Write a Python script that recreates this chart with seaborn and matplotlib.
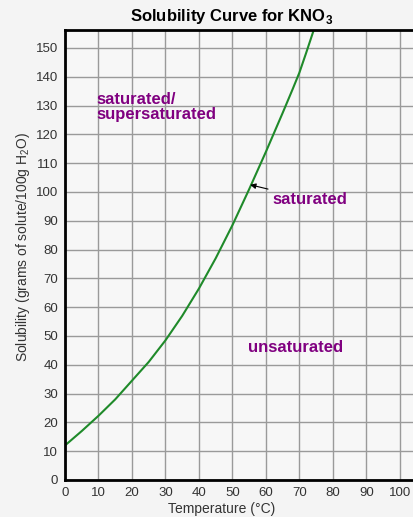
import pandas as pd
import matplotlib.pyplot as plt
import seaborn as sns

# KNO3 solubility
temperature = [0, 5, 10, 15, 20, 25, 30, 35, 40, 45, 50, 55, 60, 65, 68, 70, 72, 74.2]
solubility = [12, 17, 22.3, 28, 34.5, 41, 48.5, 57, 66.5, 77, 88.5, 101, 114,
              127.5, 135.8, 141.5, 148.3, 156]

x_ticks = [0, 10, 20, 30, 40, 50, 60, 70, 80, 90, 100]
y_ticks = [0, 10, 20, 30, 40, 50, 60, 70, 80, 90, 100, 110, 120, 130, 140, 150]

region_labels = ["saturated/\nsupersaturated", "unsaturated"]
region_pos = [(9.5, 129.5), (54.5, 46)]
arrow_label = "saturated"
arrow_target = (55.3, 102.5)
arrow_text_pos = (62, 97.5)

df = pd.DataFrame({"temp": temperature, "sol": solubility})

sns.set_style("whitegrid")
plt.rcParams["font.family"] = ["Liberation Sans", "DejaVu Sans"]
plt.rcParams["mathtext.fontset"] = "custom"
plt.rcParams["mathtext.rm"] = "Liberation Sans"
plt.rcParams["mathtext.bf"] = "Liberation Sans:bold"

fig = plt.figure(figsize=(4.14, 5.17), dpi=100, facecolor="#f4f4f4")
ax = fig.add_axes([65 / 414, 37 / 517, 1 - 65 / 414, 450 / 517])
ax.set_facecolor("#f7f7f7")

sns.lineplot(data=df, x="temp", y="sol", color="#1f8a2a", linewidth=1.5, ax=ax)

ax.set_xlim(0, 104.2)
ax.set_ylim(0, 156.25)
ax.set_xticks(x_ticks)
ax.set_yticks(y_ticks)
ax.grid(True, color="#9a9a9a", linewidth=1)
ax.tick_params(axis="both", labelsize=9.5, labelcolor="#333333", length=3,
               color="#9a9a9a", pad=2)

for side in ["left", "bottom", "top"]:
    ax.spines[side].set_color("black")
    ax.spines[side].set_linewidth(2)
ax.spines["right"].set_visible(False)

ax.set_xlabel("")
ax.set_ylabel("")
fig.text(222 / 414, 1 / 517, "Temperature (°C)", ha="center", va="bottom",
         fontsize=10, color="#333333")
fig.text(23 / 414, 1 - 247 / 517, "Solubility (grams of solute/100g H$_2$O)",
         rotation=90, ha="center", va="center", fontsize=10, color="#333333")
fig.text(232 / 414, 1 - 16 / 517, r"Solubility Curve for KNO$_\mathbf{3}$",
         ha="center", va="center", fontsize=12, fontweight="bold", color="black")

for txt, (tx, ty) in zip(region_labels, region_pos):
    ax.text(tx, ty, txt, fontsize=12, fontweight="bold", color="#800080",
            ha="left", va="center", linespacing=1.05)

ax.annotate(arrow_label, xy=arrow_target, xytext=arrow_text_pos,
            fontsize=12, fontweight="bold", color="#800080", va="center",
            arrowprops=dict(arrowstyle="-|>", color="black", lw=0.8,
                            shrinkA=1, shrinkB=0, mutation_scale=8))

fig.savefig("out.png", dpi=100, facecolor=fig.get_facecolor())
